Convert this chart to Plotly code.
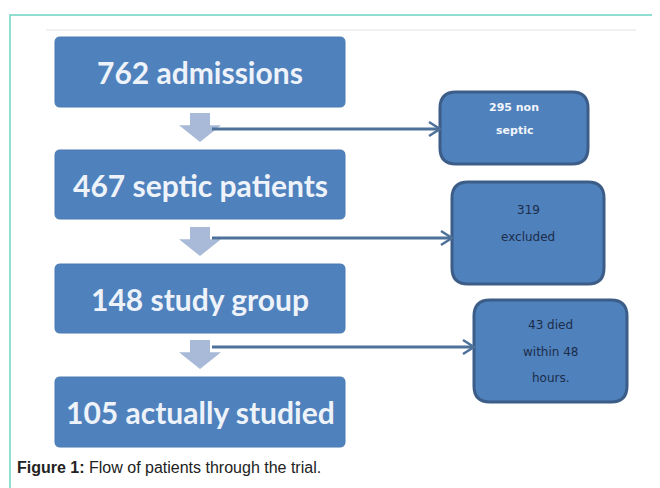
import plotly.graph_objects as go

# ---- data ----
main_counts = [762, 467, 148, 105]
main_labels = ["admissions", "septic patients", "study group", "actually studied"]
side_counts = [295, 319, 43]
side_lines = [["295 non", "septic"], ["319", "excluded"], ["43 died", "within 48", "hours."]]
caption_bold = "Figure 1:"
caption_text = "Flow of patients through the trial."

# ---- layout geometry (page pixel coordinates, y down) ----
main_boxes = [(55, 37, 345, 107), (55, 150, 345, 219), (55, 264, 345, 333), (55, 377, 345, 447)]
side_boxes = [(440, 92, 588, 164), (452, 182, 604, 284), (474, 300, 627, 402)]
side_text_y = [[107, 130], [210, 237], [325, 352, 378]]
# (stem top, tip, horizontal line y, line end x)
arrow_rows = [(113, 142, 129, 440), (227, 256, 238, 452), (340, 369, 347, 474)]

BLUE = "#4f81bd"
DARK = "#3b5d87"
LIGHT = "#a9bad8"
LINE = "#4d7199"


def rrect(x0, y0, x1, y1, r):
    return (f"M {x0+r},{y0} L {x1-r},{y0} Q {x1},{y0} {x1},{y0+r} "
            f"L {x1},{y1-r} Q {x1},{y1} {x1-r},{y1} L {x0+r},{y1} "
            f"Q {x0},{y1} {x0},{y1-r} L {x0},{y0+r} Q {x0},{y0} {x0+r},{y0} Z")


shapes = []
annotations = []

# outer teal frame
shapes.append(dict(type="path", path="M 10,490 L 10,15 L 662,15",
                   line=dict(color="#6dd3c3", width=1.5)))
# faint top line of inner picture
shapes.append(dict(type="line", x0=46, x1=636, y0=30, y1=30,
                   line=dict(color="#ececec", width=1.5)))

for (x0, y0, x1, y1), n, lab in zip(main_boxes, main_counts, main_labels):
    shapes.append(dict(type="path", path=rrect(x0, y0, x1, y1, 5),
                       fillcolor=BLUE, line=dict(color="#4a7ab3", width=1)))
    annotations.append(dict(x=(x0 + x1) / 2, y=(y0 + y1) / 2, xref="x", yref="y",
                            text=f"{n} {lab}", showarrow=False,
                            font=dict(family="Lato", size=30, color="#eef3fa", weight=700)))

for i, ((x0, y0, x1, y1), lines, ys) in enumerate(zip(side_boxes, side_lines, side_text_y)):
    shapes.append(dict(type="path", path=rrect(x0, y0, x1, y1, 16),
                       fillcolor=BLUE, line=dict(color=DARK, width=3)))
    col = "#f2f5fa" if i == 0 else "#1c2d4a"
    for t, yy in zip(lines, ys):
        annotations.append(dict(x=(x0 + x1) / 2, y=yy, xref="x", yref="y",
                                text=t, showarrow=False,
                                font=dict(family="DejaVu Sans", size=11 if i == 0 else 12,
                                          color=col, weight=700 if i == 0 else 400)))

for (ya, yb, yl, xe) in arrow_rows:
    cx = 200
    ym = ya + (yb - ya) * 0.42
    shapes.append(dict(type="path",
                       path=f"M {cx-10},{ya} L {cx+10},{ya} L {cx+10},{ym} L {cx+21},{ym} "
                            f"L {cx},{yb} L {cx-21},{ym} L {cx-10},{ym} Z",
                       fillcolor=LIGHT, line=dict(width=0)))
    shapes.append(dict(type="line", x0=cx + 12, x1=xe - 1, y0=yl, y1=yl,
                       line=dict(color=LINE, width=3)))
    shapes.append(dict(type="path", path=f"M {xe-11},{yl-7} L {xe},{yl} L {xe-11},{yl+7}",
                       line=dict(color=LINE, width=2.5)))

annotations.append(dict(x=15, y=467, xref="x", yref="y", xanchor="left", yanchor="middle",
                        text=f"<b>{caption_bold}</b> {caption_text}", showarrow=False,
                        font=dict(family="Liberation Sans", size=16, color="#222222")))

fig = go.Figure()
fig.add_trace(go.Scatter(x=[8, 660], y=[8, 488], mode="markers",
                         marker=dict(opacity=0), hoverinfo="skip", showlegend=False))
# the page body has an 8px margin: the figure is placed so that data units = page pixels
fig.update_layout(
    width=652, height=480, margin=dict(l=0, r=0, t=0, b=0),
    paper_bgcolor="white", plot_bgcolor="white",
    xaxis=dict(range=[8, 660], visible=False, fixedrange=True),
    yaxis=dict(range=[488, 8], visible=False, fixedrange=True),
    shapes=shapes, annotations=annotations,
)
fig.write_html("out.html")
